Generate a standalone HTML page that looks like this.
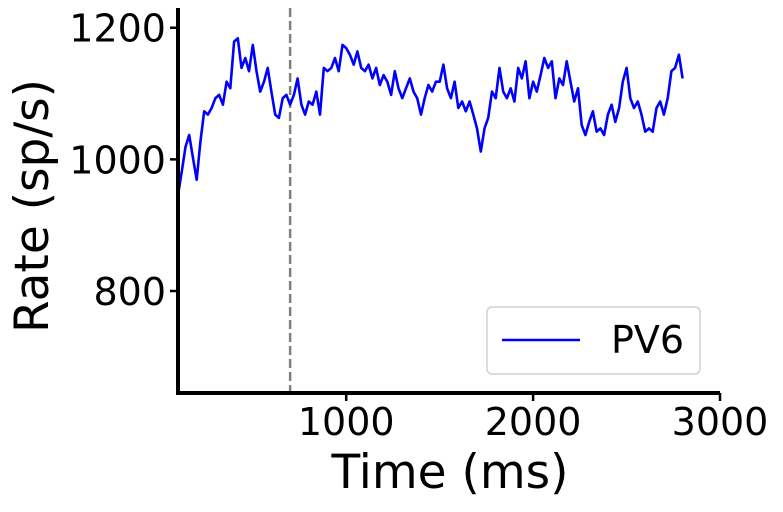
<!DOCTYPE html>
<html><head><meta charset="utf-8"><style>
html,body{margin:0;padding:0;background:#fff;}
svg text{font-family:"DejaVu Sans","Liberation Sans",sans-serif;fill:#000;}
</style></head><body>
<svg id="chart" width="783" height="507" xmlns="http://www.w3.org/2000/svg"></svg>
<script>
const times = [100,120,140,160,180,200,220,240,260,280,300,320,340,360,380,400,420,440,460,480,500,520,540,560,580,600,620,640,660,680,700,720,740,760,780,800,820,840,860,880,900,920,940,960,980,1000,1020,1040,1060,1080,1100,1120,1140,1160,1180,1200,1220,1240,1260,1280,1300,1320,1340,1360,1380,1400,1420,1440,1460,1480,1500,1520,1540,1560,1580,1600,1620,1640,1660,1680,1700,1720,1740,1760,1780,1800,1820,1840,1860,1880,1900,1920,1940,1960,1980,2000,2020,2040,2060,2080,2100,2120,2140,2160,2180,2200,2220,2240,2260,2280,2300,2320,2340,2360,2380,2400,2420,2440,2460,2480,2500,2520,2540,2560,2580,2600,2620,2640,2660,2680,2700,2720,2740,2760,2780,2800];
const rates = [946,981,1019,1037,1002,969,1027,1073,1068,1078,1093,1098,1083,1118,1108,1179,1184,1139,1154,1134,1174,1134,1103,1118,1139,1103,1068,1063,1093,1098,1083,1098,1123,1083,1068,1088,1083,1103,1068,1139,1134,1139,1154,1134,1174,1169,1159,1144,1164,1139,1134,1144,1123,1139,1113,1128,1118,1098,1134,1108,1093,1108,1123,1103,1093,1068,1093,1113,1103,1118,1118,1144,1108,1093,1118,1078,1088,1073,1088,1068,1047,1012,1047,1063,1103,1093,1139,1103,1093,1108,1088,1139,1123,1149,1093,1118,1103,1128,1154,1139,1149,1093,1123,1113,1149,1118,1088,1108,1052,1037,1057,1073,1042,1047,1037,1068,1083,1057,1078,1118,1139,1093,1078,1088,1068,1042,1047,1042,1078,1088,1068,1093,1134,1139,1159,1123];
const xTicks = [1000,2000,3000];
const yTicks = [800,1000,1200];
const stimTime = 700;
const seriesName = "PV6";

const NS="http://www.w3.org/2000/svg";
const svg=document.getElementById('chart');
const L=178,R=720,T=8,B=393, xmin=100,xmax=3000,ymin=645,ymax=1230;
const xs=v=>L+(v-xmin)/(xmax-xmin)*(R-L);
const ys=v=>B-(v-ymin)/(ymax-ymin)*(B-T);
function mk(tag,attrs){const e=document.createElementNS(NS,tag);for(const k in attrs)e.setAttribute(k,attrs[k]);svg.appendChild(e);return e;}

const dl=mk('line',{x1:xs(stimTime),x2:xs(stimTime),y1:T,y2:B,stroke:'#808080','stroke-width':2.5,'stroke-dasharray':'9,4'});



let d='';
times.forEach((t,i)=>{d+=(i?'L':'M')+xs(t).toFixed(1)+','+ys(rates[i]).toFixed(1);});
const p=mk('path',{d:d,fill:'none',stroke:'#0000ff','stroke-width':2.6,'stroke-linejoin':'round'});



const ya=mk('line',{x1:L,x2:L,y1:T,y2:B+2,stroke:'#000','stroke-width':4});


const xa=mk('line',{x1:L-2,x2:R,y1:B,y2:B,stroke:'#000','stroke-width':4});



xTicks.forEach(v=>{
  const tk=mk('line',{x1:xs(v),x2:xs(v),y1:B,y2:B+8,stroke:'#000','stroke-width':2.5});
  
  
  const tx=mk('text',{x:xs(v),y:B+42,'text-anchor':'middle','font-size':38});
  tx.textContent=v;
  
  
});
yTicks.forEach(v=>{
  const tk=mk('line',{x1:L-8,x2:L,y1:ys(v),y2:ys(v),stroke:'#000','stroke-width':2.5});
  
  
  const tx=mk('text',{x:L-12,y:ys(v)+14,'text-anchor':'end','font-size':38});
  tx.textContent=v;
  
  
});
const xl=mk('text',{x:450,y:488,'text-anchor':'middle','font-size':47});
xl.textContent='Time (ms)';


const yl=mk('text',{x:0,y:0,'text-anchor':'middle','font-size':47,transform:'translate(48,206) rotate(-90)'});
yl.textContent='Rate (sp/s)';



const lb=mk('rect',{x:487,y:307,width:213,height:67,rx:5,fill:'#fff',stroke:'#d0d0d0','stroke-width':1.5});


const ll=mk('line',{x1:502,x2:580,y1:340,y2:340,stroke:'#0000ff','stroke-width':2.6});


const lt=mk('text',{x:611,y:353,'font-size':38});
lt.textContent=seriesName;


</script>
</body></html>
